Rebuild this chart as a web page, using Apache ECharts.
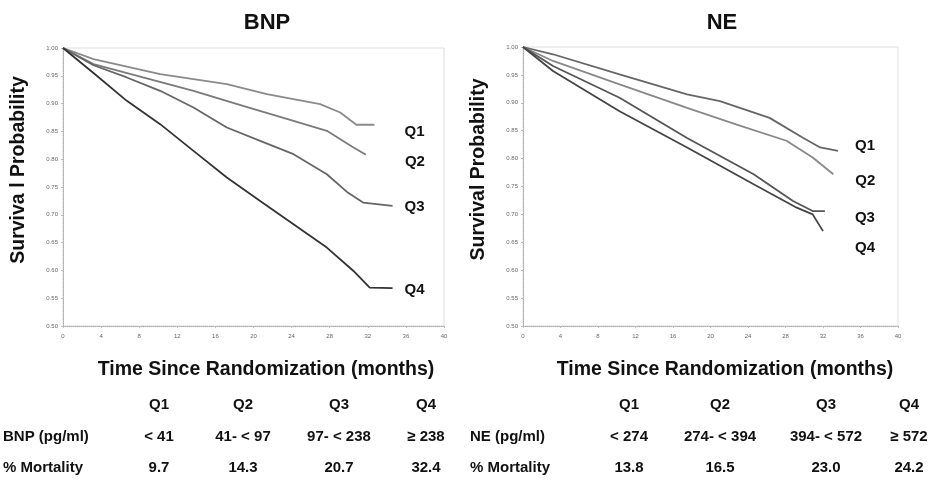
<!DOCTYPE html>
<html lang="en">
<head>
    <meta charset="UTF-8">
    <title>BNP / NE survival</title>
    <style>
        html, body { margin: 0; padding: 0; background: #fff; }
    </style>
    <script src="https://cdn.jsdelivr.net/npm/echarts@6/dist/echarts.min.js"></script>
</head>
<body>
<div id="main" style="width:929px;height:480px"></div>
<script>
    // x = months since randomization, y = survival probability
    var bnpQ1x = [0, 3.2, 10.2, 17.2, 21.4, 27.0, 29.1, 30.8, 32.7];
    var bnpQ1y = [1.0, 0.980, 0.953, 0.935, 0.917, 0.899, 0.884, 0.862, 0.862];
    var bnpQ2x = [0, 3.2, 8.4, 13.7, 18.9, 24.2, 27.7, 30.5, 31.8];
    var bnpQ2y = [1.0, 0.971, 0.947, 0.923, 0.896, 0.869, 0.851, 0.821, 0.808];
    var bnpQ3x = [0, 3.2, 6.7, 10.2, 13.7, 17.2, 20.7, 24.2, 27.7, 29.9, 31.5, 34.6];
    var bnpQ3y = [1.0, 0.969, 0.947, 0.923, 0.893, 0.857, 0.833, 0.809, 0.773, 0.740, 0.722, 0.716];
    var bnpQ4x = [0, 3.2, 6.7, 10.2, 13.7, 17.2, 20.7, 24.2, 27.7, 30.5, 32.2, 34.6];
    var bnpQ4y = [1.0, 0.955, 0.905, 0.863, 0.815, 0.767, 0.725, 0.683, 0.641, 0.599, 0.569, 0.568];

    var neQ1x = [0, 3.2, 10.3, 17.5, 21.0, 26.3, 29.9, 31.7, 33.6];
    var neQ1y = [1.0, 0.987, 0.951, 0.915, 0.903, 0.873, 0.837, 0.820, 0.814];
    var neQ2x = [0, 3.2, 10.3, 17.5, 22.8, 28.1, 30.9, 33.1];
    var neQ2y = [1.0, 0.975, 0.933, 0.891, 0.861, 0.832, 0.802, 0.772];
    var neQ3x = [0, 3.2, 10.3, 17.5, 24.6, 28.8, 30.9, 32.2];
    var neQ3y = [1.0, 0.966, 0.909, 0.837, 0.772, 0.724, 0.706, 0.706];
    var neQ4x = [0, 3.2, 10.3, 17.5, 24.6, 29.2, 30.9, 32.0];
    var neQ4y = [1.0, 0.957, 0.885, 0.820, 0.754, 0.712, 0.700, 0.670];

    var quartiles = ['Q1', 'Q2', 'Q3', 'Q4'];
    var bnpRanges = ['< 41', '41- < 97', '97- < 238', '≥ 238'];
    var bnpMortality = ['9.7', '14.3', '20.7', '32.4'];
    var neRanges = ['< 274', '274- < 394', '394- < 572', '≥ 572'];
    var neMortality = ['13.8', '16.5', '23.0', '24.2'];

    var font = "'Liberation Sans', Arial, sans-serif";

    function pairs(xs, ys) {
        var out = [];
        for (var i = 0; i < xs.length; i++) out.push([xs[i], ys[i]]);
        return out;
    }

    function curve(name, xs, ys, idx, color, off) {
        return {
            name: name,
            type: 'line',
            xAxisIndex: idx,
            yAxisIndex: idx,
            data: pairs(xs, ys),
            symbol: 'none',
            lineStyle: { color: color, width: 1.8 },
            endLabel: {
                show: true,
                formatter: name,
                offset: off,
                color: '#111',
                fontFamily: font,
                fontWeight: 'bold',
                fontSize: 15
            },
            animation: false
        };
    }

    function xAxisOpt(idx, pad) {
        return {
            type: 'value', gridIndex: idx, min: 0, max: 40, interval: 4,
            name: 'Time Since Randomization (months)',
            nameLocation: 'middle', nameGap: 34,
            nameTextStyle: { fontFamily: font, fontWeight: 'bold', fontSize: 19.5, color: '#111', padding: [0, 0, 0, pad] },
            axisLine: { lineStyle: { color: '#aaa', type: 'dotted' } },
            axisTick: { length: 2, lineStyle: { color: '#bbb' } },
            axisLabel: { fontSize: 6, color: '#666', margin: 7, fontFamily: font },
            splitLine: { show: false }
        };
    }

    function yAxisOpt(idx, name) {
        return {
            type: 'value', gridIndex: idx, min: 0.5, max: 1.0, interval: 0.05,
            name: name,
            nameLocation: 'middle', nameGap: 34, nameRotate: 90,
            nameTextStyle: { fontFamily: font, fontWeight: 'bold', fontSize: 19.5, color: '#111', padding: [0, 0, 0, 34] },
            axisLine: { show: true, lineStyle: { color: '#aaa', type: 'dotted' } },
            axisTick: { show: true, length: 2, lineStyle: { color: '#bbb' } },
            axisLabel: { fontSize: 6, color: '#666', margin: 5, fontFamily: font,
                formatter: function (v) { return v.toFixed(2); } },
            splitLine: { show: false }
        };
    }

    function tableText(x, y, text, align) {
        return {
            type: 'text', x: x, y: y,
            style: {
                text: text, fill: '#111', font: 'bold 15px ' + font,
                textAlign: align || 'center', textVerticalAlign: 'middle'
            }
        };
    }

    var leftCols = [159, 243, 339, 426];
    var rightCols = [629, 720, 826, 909];
    var rowY = [405, 437, 468];
    var table = [];
    for (var i = 0; i < 4; i++) {
        table.push(tableText(leftCols[i], rowY[0], quartiles[i]));
        table.push(tableText(leftCols[i], rowY[1], bnpRanges[i]));
        table.push(tableText(leftCols[i], rowY[2], bnpMortality[i]));
        table.push(tableText(rightCols[i], rowY[0], quartiles[i]));
        table.push(tableText(rightCols[i], rowY[1], neRanges[i]));
        table.push(tableText(rightCols[i], rowY[2], neMortality[i]));
    }
    table.push(tableText(3, rowY[1], 'BNP (pg/ml)', 'left'));
    table.push(tableText(3, rowY[2], '% Mortality', 'left'));
    table.push(tableText(470, rowY[1], 'NE (pg/ml)', 'left'));
    table.push(tableText(470, rowY[2], '% Mortality', 'left'));

    var chart = echarts.init(document.getElementById('main'));
    chart.setOption({
        backgroundColor: '#fff',
        animation: false,
        title: [
            { text: 'BNP', left: 262, top: 7, textAlign: 'center',
              textStyle: { fontFamily: font, fontWeight: 'bold', fontSize: 22, color: '#111' } },
            { text: 'NE', left: 717, top: 7, textAlign: 'center',
              textStyle: { fontFamily: font, fontWeight: 'bold', fontSize: 22, color: '#111' } }
        ],
        grid: [
            { left: 63, right: 485, top: 48, bottom: 154, show: true, borderColor: '#ddd', borderWidth: 1 },
            { left: 523, right: 31, top: 47, bottom: 154, show: true, borderColor: '#ddd', borderWidth: 1 }
        ],
        xAxis: [xAxisOpt(0, 25), xAxisOpt(1, 29)],
        yAxis: [yAxisOpt(0, 'Surviva l Probability'), yAxisOpt(1, 'Survival Probability')],
        series: [
            curve('Q1', bnpQ1x, bnpQ1y, 0, '#8a8a8a', [22, 7]),
            curve('Q2', bnpQ2x, bnpQ2y, 0, '#7a7a7a', [31, 7]),
            curve('Q3', bnpQ3x, bnpQ3y, 0, '#666', [4, 1]),
            curve('Q4', bnpQ4x, bnpQ4y, 0, '#333', [4, 2]),
            curve('Q1', neQ1x, neQ1y, 1, '#666', [9, -5]),
            curve('Q2', neQ2x, neQ2y, 1, '#888', [14, 7]),
            curve('Q3', neQ3x, neQ3y, 1, '#555', [22, 7]),
            curve('Q4', neQ4x, neQ4y, 1, '#444', [24, 17])
        ],
        graphic: table
    });
</script>
</body>
</html>
